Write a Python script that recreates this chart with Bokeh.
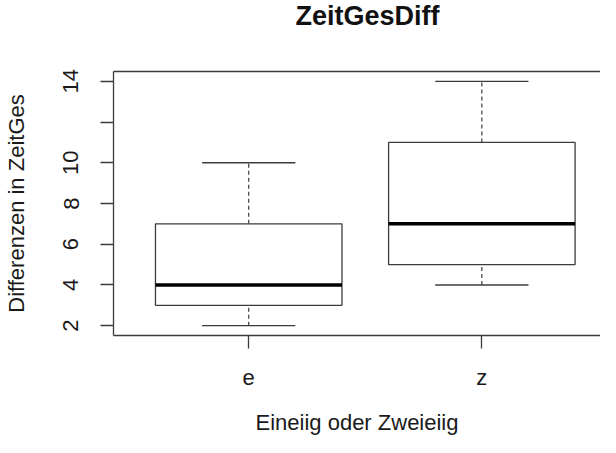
from bokeh.plotting import figure
from bokeh.models import Range1d, FixedTicker, ColumnDataSource, LinearAxis
from bokeh.embed import file_html
from bokeh.resources import INLINE

# ---- data ----
groups = ["e", "z"]
whisker_low = [2, 4]
quartile_1 = [3, 5]
medians = [4, 7]
quartile_3 = [7, 11]
whisker_high = [10, 14]
y_ticks = [2, 4, 6, 8, 10, 12, 14]
y_tick_labels = ["2", "4", "6", "8", "10", "", "14"]

title_text = "ZeitGesDiff"
x_label = "Eineiig oder Zweieiig"
y_label = "Differenzen in ZeitGes"

# ---- derived positions ----
pos = [i + 1 for i in range(len(groups))]
box_half = 0.4
cap_half = 0.2

src = ColumnDataSource(dict(
    x=pos,
    left=[x - box_half for x in pos],
    right=[x + box_half for x in pos],
    cap_l=[x - cap_half for x in pos],
    cap_r=[x + cap_half for x in pos],
    lo=whisker_low, q1=quartile_1, med=medians, q3=quartile_3, hi=whisker_high,
))

FONT = "Liberation Sans"
LINE = "#3c3c3c"
TXT = "#1a1a1a"

p = figure(width=600, height=437,
           x_range=Range1d(0.42, 2.509), y_range=Range1d(1.52, 14.48),
           output_backend="svg", toolbar_location=None,
           min_border_left=112, min_border_right=0,
           min_border_top=71, min_border_bottom=101)
p.outline_line_color = None
p.grid.visible = False
p.background_fill_color = "white"
p.border_fill_color = "white"

# title
p.title.text = title_text
p.title.text_font = FONT
p.title.text_font_size = "27px"
p.title.text_font_style = "bold"
p.title.text_color = "#111111"
p.title.align = "left"
p.title.offset = 182
p.title.vertical_align = "top"
p.title.standoff = 0

# top edge of the plot box (axis line only; invisible ticks give the gap to the title)
top_axis = LinearAxis(ticker=FixedTicker(ticks=pos), axis_line_color=LINE,
                      axis_line_width=1.3, major_tick_in=0, major_tick_out=39,
                      major_tick_line_color=None, minor_tick_line_color=None,
                      major_label_overrides={x: "" for x in pos},
                      major_label_text_font_size="1px",
                      major_label_standoff=0, axis_label_standoff=0)
p.add_layout(top_axis, "above")

# whiskers (dashed)
p.segment(x0="x", y0="q3", x1="x", y1="hi", source=src, line_color=LINE,
          line_width=1.2, line_dash="4 3")
p.segment(x0="x", y0="lo", x1="x", y1="q1", source=src, line_color=LINE,
          line_width=1.2, line_dash="4 3")
# caps
p.segment(x0="cap_l", y0="hi", x1="cap_r", y1="hi", source=src, line_color=LINE, line_width=1.3)
p.segment(x0="cap_l", y0="lo", x1="cap_r", y1="lo", source=src, line_color=LINE, line_width=1.3)
# boxes
p.quad(left="left", right="right", bottom="q1", top="q3", source=src,
       fill_color="white", line_color=LINE, line_width=1.3)
# medians
p.segment(x0="left", y0="med", x1="right", y1="med", source=src,
          line_color="black", line_width=3.5)

# x axis
xa = p.below[0]
xa.ticker = FixedTicker(ticks=pos)
xa.major_label_overrides = {x: g for x, g in zip(pos, groups)}
xa.minor_tick_line_color = None
xa.major_tick_in = 0
xa.major_tick_out = 13
xa.major_tick_line_color = LINE
xa.major_tick_line_width = 1.3
xa.axis_line_color = LINE
xa.axis_line_width = 1.3
xa.major_label_text_font = FONT
xa.major_label_text_font_size = "22px"
xa.major_label_text_color = TXT
xa.major_label_standoff = 16
xa.axis_label = x_label
xa.axis_label_text_font = FONT
xa.axis_label_text_font_size = "22px"
xa.axis_label_text_font_style = "normal"
xa.axis_label_text_color = TXT
xa.axis_label_standoff = 17

# y axis
ya = p.left[0]
ya.ticker = FixedTicker(ticks=y_ticks)
ya.major_label_overrides = {t: l for t, l in zip(y_ticks, y_tick_labels)}
ya.major_label_orientation = "vertical"
ya.minor_tick_line_color = None
ya.major_tick_in = 0
ya.major_tick_out = 13
ya.major_tick_line_color = LINE
ya.major_tick_line_width = 1.3
ya.axis_line_color = LINE
ya.axis_line_width = 1.3
ya.major_label_text_font = FONT
ya.major_label_text_font_size = "22px"
ya.major_label_text_color = TXT
ya.major_label_standoff = 22
ya.axis_label = y_label
ya.axis_label_text_font = FONT
ya.axis_label_text_font_size = "22px"
ya.axis_label_text_font_style = "normal"
ya.axis_label_text_color = TXT
ya.axis_label_standoff = 32

open("out.html", "w").write(file_html(p, INLINE))
